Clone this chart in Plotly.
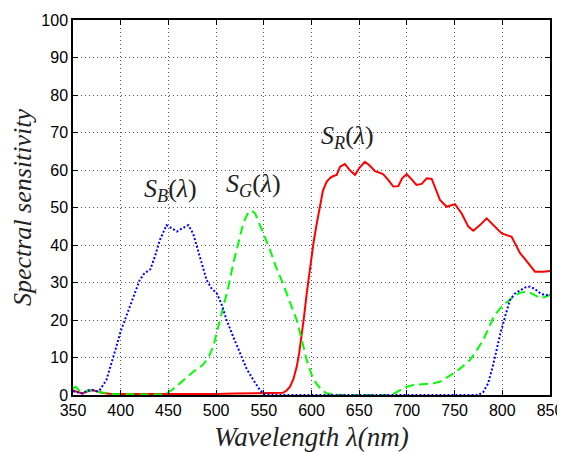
import plotly.graph_objects as go

# Wavelengths (nm) and spectral sensitivity values
wl_r = [350, 355, 360, 365, 370, 375, 380, 390, 400, 420, 450, 480, 500, 520, 550, 560, 565,
        570, 574, 577.5, 581, 584.5, 587, 589.7, 592, 595, 598, 602, 605, 609, 612, 616, 620,
        623, 626.4, 630, 635, 640, 645.6, 650, 656, 661, 666.6, 675, 680, 685.7, 691, 695,
        699.8, 705, 710, 715.5, 720.8, 726, 730, 734.7, 741.7, 746, 750.4, 757.4, 764.4,
        769.6, 776.6, 783.6, 790.6, 799.4, 809.8, 814, 818.6, 823, 827.3, 834.3, 843, 850]
s_r = [1.2, 0.8, 0.4, 0.9, 1.3, 1.0, 0.6, 0.3, 0.3, 0.2, 0.1, 0.2, 0.3, 0.4, 0.5, 0.5, 0.4,
       0.6, 1.2, 2.2, 4.2, 7.5, 11, 15.5, 20.5, 27.1, 33, 40.4, 45, 51.1, 54.5, 56.9, 58,
       58.4, 58.7, 60.9, 61.6, 60, 58.7, 60.5, 62.2, 61.2, 59.7, 58.9, 57.5, 55.6, 55.7, 57.8,
       58.9, 57.5, 56, 56.3, 57.8, 57.6, 55, 52, 50.2, 50.5, 50.9, 48.4, 44.9,
       43.8, 45.3, 47.1, 45.3, 43.1, 42.2, 40, 37.8, 36.5, 35.1, 32.9, 32.9, 33.1]

wl_g = [350, 353, 357, 362, 366, 372, 380, 390, 400, 420, 445, 448, 455, 462, 470, 476, 486,
        492, 497, 502, 507.6, 513, 518, 523, 528.5, 534, 538, 541, 549, 556.5, 563, 570, 577,
        584.5, 590, 595, 600, 605, 610, 616, 625, 640, 680, 686, 693, 700, 707, 714, 721, 728,
        735, 742, 749, 757, 766, 773, 780, 786, 791, 799, 808, 813, 819, 824, 829, 834, 840,
        845, 850]
s_g = [1.8, 2.2, 1.0, 0.7, 1.3, 1.0, 0.6, 0.3, 0.2, 0.1, 0.1, 0.4, 1.6, 3.1, 5, 6.2, 8,
       10, 12.9, 18, 23.5, 29, 35.1, 40.5, 45.8, 48.9, 49, 48.4, 43.5, 38.7, 34, 29.8, 25,
       20, 14.5, 9.3, 5.5, 3.1, 1.5, 0.4, 0.1, 0, 0, 0.3, 1.3, 2.2, 2.7, 2.9, 3.0, 3.1,
       3.6, 4.6, 5.8, 7.3, 9.3, 11.8, 14.7, 18.0, 20.9, 23.5, 25.3, 26.5, 27.3, 27.5, 27.3, 26.7, 25.8,
       26.2, 26.7]

wl_b = [350, 355, 360, 365, 370, 375, 378, 385, 390, 395, 400, 406, 412, 420, 425, 431, 436,
        441, 448, 453, 459, 465, 471, 476, 480, 490, 495, 501, 506, 511, 518, 525, 532, 539,
        546, 551, 560, 700, 775, 780, 785, 790, 794, 798, 803, 808, 813, 819, 824, 829, 834,
        840, 845, 850]
s_b = [1.0, 0.8, 0.4, 1.2, 1.3, 1.0, 1.3, 4, 8, 12.5, 17, 21, 25, 30.7, 32.5, 33.5, 37,
       41.3, 45.3, 44.5, 43.6, 44.5, 45.3, 43, 39.6, 30.7, 28.5, 27, 24, 20, 15.5, 11.1, 7, 4,
       1.3, 0.2, 0, 0, 0, 0.8, 3, 7.6, 12, 16.4, 21, 25.3, 27, 28, 28.7, 28.9, 28.3,
       27.1, 26.6, 26.7]

x_ticks = [350, 400, 450, 500, 550, 600, 650, 700, 750, 800, 850]
y_ticks = [0, 10, 20, 30, 40, 50, 60, 70, 80, 90, 100]

labels = ["<i>S</i><sub><i>B</i></sub>(<i>λ</i>)",
          "<i>S</i><sub><i>G</i></sub>(<i>λ</i>)",
          "<i>S</i><sub><i>R</i></sub>(<i>λ</i>)"]
label_x = [452, 539, 638]
label_y = [54.7, 56, 68.8]

fig = go.Figure()
fig.add_trace(go.Scatter(x=wl_r, y=s_r, mode="lines",
                         line=dict(color="#ff0000", width=2)))
fig.add_trace(go.Scatter(x=wl_g, y=s_g, mode="lines",
                         line=dict(color="#00ff00", width=2, dash="9px,5px")))
fig.add_trace(go.Scatter(x=wl_b, y=s_b, mode="lines",
                         line=dict(color="#0000ff", width=2, dash="2px,2px")))

serif = "Liberation Serif, Times New Roman, serif"
for t, xx, yy in zip(labels, label_x, label_y):
    fig.add_annotation(x=xx, y=yy, text=t, showarrow=False,
                       font=dict(family=serif, size=26, color="#222"))

axis_common = dict(showgrid=True, gridcolor="#555", griddash="1px,3px", gridwidth=1,
                   showline=True, linecolor="black", linewidth=1.5, mirror="ticks",
                   ticks="inside", ticklen=5, tickcolor="black", zeroline=False,
                   automargin=False,
                   tickfont=dict(family="Liberation Sans, Arial, sans-serif", size=16, color="black"))

# The page body has an 8px default margin, so the figure is sized to fit the window.
fig.update_layout(
    width=557, height=444,
    margin=dict(l=65, r=15, t=12, b=57),
    paper_bgcolor="white", plot_bgcolor="white",
    showlegend=False,
    xaxis=dict(range=[350, 850], tickvals=x_ticks, ticktext=[str(v) for v in x_ticks],
               title=dict(text="<i>Wavelength λ(nm)</i>", standoff=14,
                          font=dict(family=serif, size=27, color="#222")),
               **axis_common),
    yaxis=dict(range=[0, 100], tickvals=y_ticks, ticktext=[str(v) for v in y_ticks],
               title=dict(text="<i>Spectral sensitivity</i>", standoff=10,
                          font=dict(family=serif, size=26, color="#222")),
               **axis_common),
)

fig.write_html("out.html")
